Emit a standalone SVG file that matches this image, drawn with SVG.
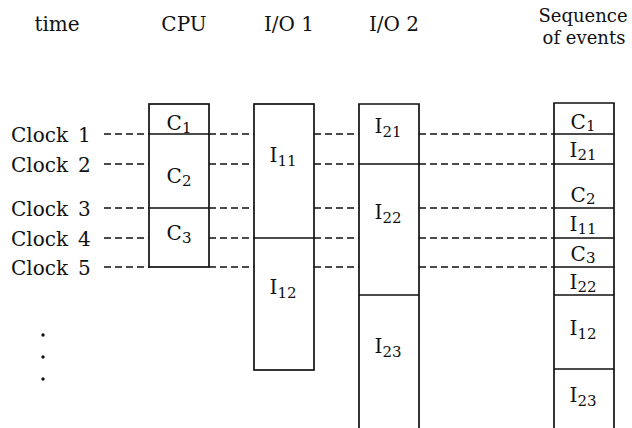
<svg xmlns="http://www.w3.org/2000/svg" width="632" height="428" viewBox="0 0 632 428">
<style>
text{font-family:"DejaVu Serif","Liberation Serif",serif;font-size:20px;fill:#111}
.m{text-anchor:middle}
.sub{font-size:15px}
.hd2{font-size:18px}
.box{fill:#fff;stroke:#111;stroke-width:1.7}
.div{stroke:#111;stroke-width:1.5}
.dash{stroke:#111;stroke-width:1.4;stroke-dasharray:7 4;fill:none}
</style>
<rect width="632" height="428" fill="#fff"/>
<g id="headers">
<text class="m" x="57" y="31">time</text>
<text class="m" x="184" y="31">CPU</text>
<text class="m" x="289" y="31">I/O 1</text>
<text class="m" x="394" y="31">I/O 2</text>
<text class="m hd2" x="583" y="22">Sequence</text>
<text class="m hd2" x="584" y="44">of events</text>
</g>
<g id="clocks">
<text x="11" y="142">Clock <tspan x="78">1</tspan></text>
<text x="11" y="172">Clock <tspan x="78">2</tspan></text>
<text x="11" y="216">Clock <tspan x="78">3</tspan></text>
<text x="11" y="246">Clock <tspan x="78">4</tspan></text>
<text x="11" y="275">Clock <tspan x="78">5</tspan></text>
<circle cx="43" cy="335" r="1.7" fill="#111"/>
<circle cx="43" cy="357" r="1.7" fill="#111"/>
<circle cx="43" cy="379" r="1.7" fill="#111"/>
</g>
<g id="connectors">
<path class="dash" d="M104,134H149M209,134H254M314,134H359M419,134H554"/>
<path class="dash" d="M104,164H149M209,164H254M314,164H359M419,164H554"/>
<path class="dash" d="M104,208H149M209,208H254M314,208H359M419,208H554"/>
<path class="dash" d="M104,238H149M209,238H254M314,238H359M419,238H554"/>
<path class="dash" d="M104,267H149M209,267H254M314,267H359M419,267H554"/>
</g>
<g id="cpu">
<rect class="box" x="149" y="104" width="60" height="163"/>
<path class="div" d="M149,134H209M149,208H209"/>
<text class="m" x="179" y="130">C<tspan class="sub" dy="3">1</tspan></text>
<text class="m" x="179" y="183">C<tspan class="sub" dy="3">2</tspan></text>
<text class="m" x="179" y="240">C<tspan class="sub" dy="3">3</tspan></text>
</g>
<g id="io1">
<rect class="box" x="254" y="104" width="60" height="266"/>
<path class="div" d="M254,238H314"/>
<text class="m" x="283" y="162">I<tspan class="sub" dy="4">11</tspan></text>
<text class="m" x="283" y="294">I<tspan class="sub" dy="4">12</tspan></text>
</g>
<g id="io2">
<path class="box" d="M359,432V104H419V432"/>
<path class="div" d="M359,164H419M359,295H419"/>
<text class="m" x="388" y="133">I<tspan class="sub" dy="4">21</tspan></text>
<text class="m" x="388" y="219">I<tspan class="sub" dy="4">22</tspan></text>
<text class="m" x="388" y="353">I<tspan class="sub" dy="4">23</tspan></text>
</g>
<g id="sequence">
<path class="box" d="M554,432V103H614V432"/>
<path class="div" d="M554,134H614M554,164H614M554,208H614M554,238H614M554,267H614M554,295H614M554,369H614"/>
<text class="m" x="583" y="129">C<tspan class="sub" dy="2">1</tspan></text>
<text class="m" x="583" y="157">I<tspan class="sub" dy="3">21</tspan></text>
<text class="m" x="583" y="202">C<tspan class="sub" dy="2">2</tspan></text>
<text class="m" x="583" y="231">I<tspan class="sub" dy="3">11</tspan></text>
<text class="m" x="583" y="261">C<tspan class="sub" dy="2">3</tspan></text>
<text class="m" x="583" y="289">I<tspan class="sub" dy="3">22</tspan></text>
<text class="m" x="583" y="335">I<tspan class="sub" dy="4">12</tspan></text>
<text class="m" x="583" y="402">I<tspan class="sub" dy="4">23</tspan></text>
</g>
</svg>
